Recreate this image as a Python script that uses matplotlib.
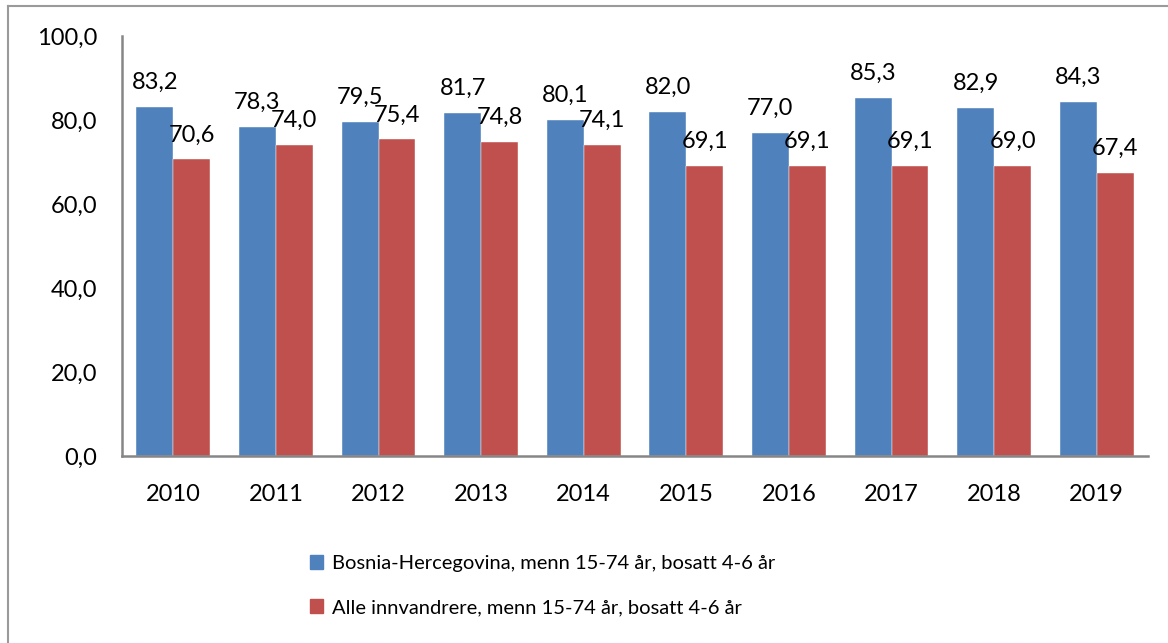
import matplotlib.pyplot as plt
import numpy as np
from matplotlib.patches import Rectangle
from matplotlib.lines import Line2D

years = ["2010", "2011", "2012", "2013", "2014", "2015", "2016", "2017", "2018", "2019"]
bosnia = [83.2, 78.3, 79.5, 81.7, 80.1, 82.0, 77.0, 85.3, 82.9, 84.3]
alle = [70.6, 74.0, 75.4, 74.8, 74.1, 69.1, 69.1, 69.1, 69.0, 67.4]
series_names = ["Bosnia-Hercegovina, menn 15-74 år, bosatt 4-6 år",
                "Alle innvandrere, menn 15-74 år, bosatt 4-6 år"]

blue = "#4F81BD"
red = "#C0504D"
grey = "#868686"

plt.rcParams['font.family'] = ['Lato', 'DejaVu Sans']
fs = 17

fig = plt.figure(figsize=(11.68, 6.43), dpi=100)
ax = fig.add_axes([122/1168, 1 - 456/643, (1148 - 122)/1168, (456 - 36)/643])

x = np.arange(len(years))
w = 0.36
b1 = ax.bar(x - w/2, bosnia, w, color=blue, edgecolor="white", linewidth=0.3)
b2 = ax.bar(x + w/2, alle, w, color=red, edgecolor="white", linewidth=0.3)

fmt = lambda v: f"{v:.1f}".replace(".", ",")
for bars, vals in ((b1, bosnia), (b2, alle)):
    for r, v in zip(bars, vals):
        ax.annotate(fmt(v), (r.get_x() + r.get_width()/2, v), xytext=(0, 10),
                    textcoords="offset points", ha="center", va="bottom", fontsize=fs)

ax.set_xlim(-0.5, len(years) - 0.5)
ax.set_ylim(0, 100)
ax.set_yticks(np.arange(0, 101, 20))
ax.set_yticklabels([fmt(v) for v in np.arange(0, 101, 20)], fontsize=fs)
ax.set_xticks(x)
ax.set_xticklabels(years, fontsize=fs)
ax.tick_params(axis="y", length=0, pad=18)
ax.tick_params(axis="x", length=0, pad=20)
for s in ("top", "right"):
    ax.spines[s].set_visible(False)
for s in ("left", "bottom"):
    ax.spines[s].set_color(grey)
    ax.spines[s].set_linewidth(1.8)

handles = [Rectangle((0, 0), 1, 1, color=blue), Rectangle((0, 0), 1, 1, color=red)]
fig.legend(handles, series_names, loc="upper left", bbox_to_anchor=(310/1168, 1 - 555/643),
           frameon=False, fontsize=14.5, handlelength=0.65, handleheight=0.65,
           handletextpad=0.45, labelspacing=1.35, borderpad=0, borderaxespad=0)

# outer frame (left and top edges visible in the reference)
fig.add_artist(Line2D([8/1168, 8/1168], [0, 1 - 6/643], transform=fig.transFigure, color="#9a9a9a", lw=1.5))
fig.add_artist(Line2D([8/1168, 1], [1 - 6/643, 1 - 6/643], transform=fig.transFigure, color="#9a9a9a", lw=1.5))

fig.savefig("out.png", dpi=100)
